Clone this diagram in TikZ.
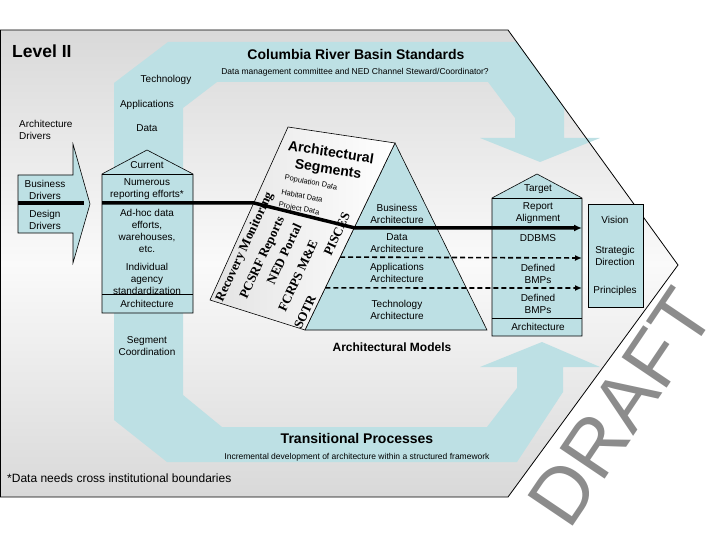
\documentclass[tikz,border=0pt]{standalone}
\usepackage{fontspec}
\setmainfont{Liberation Sans}
\newfontfamily\serifb{Liberation Serif}
\usetikzlibrary{arrows.meta,calc}
\definecolor{band}{RGB}{189,224,228}
\definecolor{draftgray}{RGB}{140,140,140}
\begin{document}
\begin{tikzpicture}[x=1pt,y=-1pt,
  lbl/.style={font=\fontsize{10}{12}\selectfont, align=center, inner sep=0pt},
  tiny/.style={font=\fontsize{8.5}{10}\selectfont, inner sep=0pt},
  ttl/.style={font=\bfseries\fontsize{14}{16}\selectfont, inner sep=0pt},
  vlbl/.style={font=\serifb\bfseries\fontsize{13}{14}\selectfont, inner sep=0pt, rotate=65},
  cardt/.style={font=\bfseries\fontsize{14}{15}\selectfont, inner sep=0pt, rotate=-9},
  cards/.style={font=\fontsize{7.5}{8}\selectfont, inner sep=0pt, rotate=-11},
  boxline/.style={draw=black, line width=0.6pt},
  thick line/.style={line width=3.5pt},
  dash line/.style={line width=1.6pt, dash pattern=on 5pt off 3pt}]
\useasboundingbox (0,0) rectangle (720,540);
% outer background
\shade[top color=gray!30, bottom color=gray!30, middle color=white!96!gray]
  (0.5,30) -- (508,30) -- (678,265) -- (508,497) -- (0.5,497) -- cycle;
% blue band
\fill[band] (114,420) -- (114,83) -- (168,42) -- (517,42) -- (564,107) -- (564,138)
  -- (600,138) -- (540,162) -- (480,138) -- (515,138) -- (515,118) -- (488,82)
  -- (217,82) -- (183,108) -- (183,395) -- (222,427) -- (487,427) -- (517,388)
  -- (517,367) -- (480,367) -- (542,342) -- (600,367) -- (563,367) -- (563,392)
  -- (517,462) -- (167,462) -- cycle;
\draw[line width=0.8pt] (0.5,30) -- (508,30) -- (678,265) -- (508,497) -- (0.5,497) -- cycle;
% drivers arrow
\draw[boxline, fill=band] (18,175) -- (73,175) -- (73,144) -- (90,204) -- (73,263) -- (73,233) -- (18,233) -- cycle;
% current house
\draw[boxline, fill=band] (102,174) -- (147,150) -- (193,174) -- (193,313) -- (102,313) -- cycle;
\draw[boxline] (102,174) -- (193,174);
\draw[boxline] (102,294) -- (193,294);
% target house
\draw[boxline, fill=band] (492,198) -- (537,174) -- (582,198) -- (582,336) -- (492,336) -- cycle;
\draw[boxline] (492,198) -- (582,198);
\draw[boxline] (492,318) -- (582,318);
% vision box
\draw[boxline, fill=band] (588,204) rectangle (643,307);
% pyramid
\coordinate (apex) at (395,143);
\coordinate (pbl) at (305,330);
\coordinate (pbr) at (487,330);
\draw[boxline, fill=band] (apex) -- (pbr) -- (pbl) -- cycle;
% card
\shade[left color=gray!22, right color=white] (288,127) -- (apex) -- (pbl) -- (210,300) -- cycle;
\draw[boxline] (288,127) -- (apex) -- (pbl) -- (210,300) -- cycle;

% texts
\node[anchor=west, inner sep=0pt, font=\bfseries\fontsize{17.5}{18}\selectfont] (lvl) at (12,51) {Level II};
\node[ttl] (crbs) at (356,54) {Columbia River Basin Standards};
\node[tiny] (dmc) at (355,72) {Data management committee and NED Channel Steward/Coordinator?};
\node[lbl] (tech) at (166,80) {Technology};
\node[lbl] (apps) at (147,105) {Applications};
\node[lbl] (data) at (147,128) {Data};
\node[lbl, align=left, anchor=west] (ad) at (19,130) {Architecture\\Drivers};
\node[lbl] (bd) at (45,189.5) {Business\\Drivers};
\node[lbl] (dd) at (45,219.5) {Design\\Drivers};
\node[lbl] (cur) at (147,165) {Current};
\node[lbl] (num) at (147,189.5) {Numerous\\reporting efforts*};
\node[lbl] (adhoc) at (147,231) {Ad-hoc data\\efforts,\\warehouses,\\etc.};
\node[lbl] (indiv) at (147,278.5) {Individual\\agency\\standardization};
\node[lbl] (carch) at (147,304) {Architecture};
\node[lbl] (segc) at (147,346) {Segment\\Coordination};
% pyramid texts
\node[lbl] (ba) at (397,213.5) {Business\\Architecture};
\node[lbl] (da) at (397,243.5) {Data\\Architecture};
\node[lbl] (aa) at (397,273) {Applications\\Architecture};
\node[lbl] (ta) at (397,309.5) {Technology\\Architecture};
% target texts
\node[lbl] (tgt) at (538,189) {Target};
\node[lbl] (ra) at (538,213.5) {Report\\Alignment};
\node[lbl] (ddb) at (538,238) {DDBMS};
\node[lbl] (db1) at (538,273.5) {Defined\\BMPs};
\node[lbl] (db2) at (538,303.5) {Defined\\BMPs};
\node[lbl] (tarch) at (538,327) {Architecture};
% vision texts
\node[lbl] (vis) at (615,220) {Vision};
\node[lbl] (sd) at (615,255.5) {Strategic\\Direction};
\node[lbl] (prin) at (615,291) {Principles};
% card texts
\node[cardt] (as1) at (331,152) {Architectural};
\node[cardt] (as2) at (328,170) {Segments};
\node[cards] (pop) at (311,183) {Population Data};
\node[cards] (hab) at (302,196) {Habitat Data};
\node[cards] (proj) at (299,209) {Project Data};
\node[vlbl] (rm) at (245,247) {Recovery Monitoring};
\node[vlbl] (pcsrf) at (263,258) {PCSRF Reports};
\node[vlbl] (ned) at (284,254) {NED Portal};
\node[vlbl] (fcrps) at (298,276) {FCRPS M\&E};
\node[vlbl] (pis) at (337,234) {PISCES};
\node[vlbl] (sotr) at (305,312) {SOTR};
% bottom texts
\node[font=\bfseries\fontsize{12}{14}\selectfont, inner sep=0pt] (am) at (392,347) {Architectural Models};
\node[ttl] (tp) at (357,438) {Transitional Processes};
\node[tiny] (inc) at (357,457) {Incremental development of architecture within a structured framework};
\node[anchor=west, inner sep=0pt, font=\fontsize{12}{14}\selectfont] (foot) at (7,478) {*Data needs cross institutional boundaries};

% connector lines
\coordinate (l1a) at (18,203);
\coordinate (l1b) at (84,203);
\draw[thick line] (l1a) -- (l1b);
\coordinate (s0) at (102,203);
\coordinate (s1) at (254,203);
\coordinate (s2) at (355,228);
\coordinate (s3) at (582,228);
\draw[thick line, -{Latex[length=8pt,width=7pt]}] (s0) -- (s1) -- (s2) -- (s3);
\coordinate (d1a) at ($(apex)!0.61!(pbl)$);
\coordinate (d1b) at (582,258);
\coordinate (d2a) at ($(apex)!0.775!(pbl)$);
\coordinate (d2b) at (582,288);
\draw[dash line, -{Latex[length=7pt,width=6pt]}] (d1a) -- (d1b);
\draw[dash line, -{Latex[length=7pt,width=6pt]}] (d2a) -- (d2b);

% DRAFT watermark
\node[font=\fontsize{79}{79}\selectfont, text=draftgray, rotate=56, inner sep=0pt] (draft) at (621,407) {DRAFT};
\end{tikzpicture}
\end{document}
